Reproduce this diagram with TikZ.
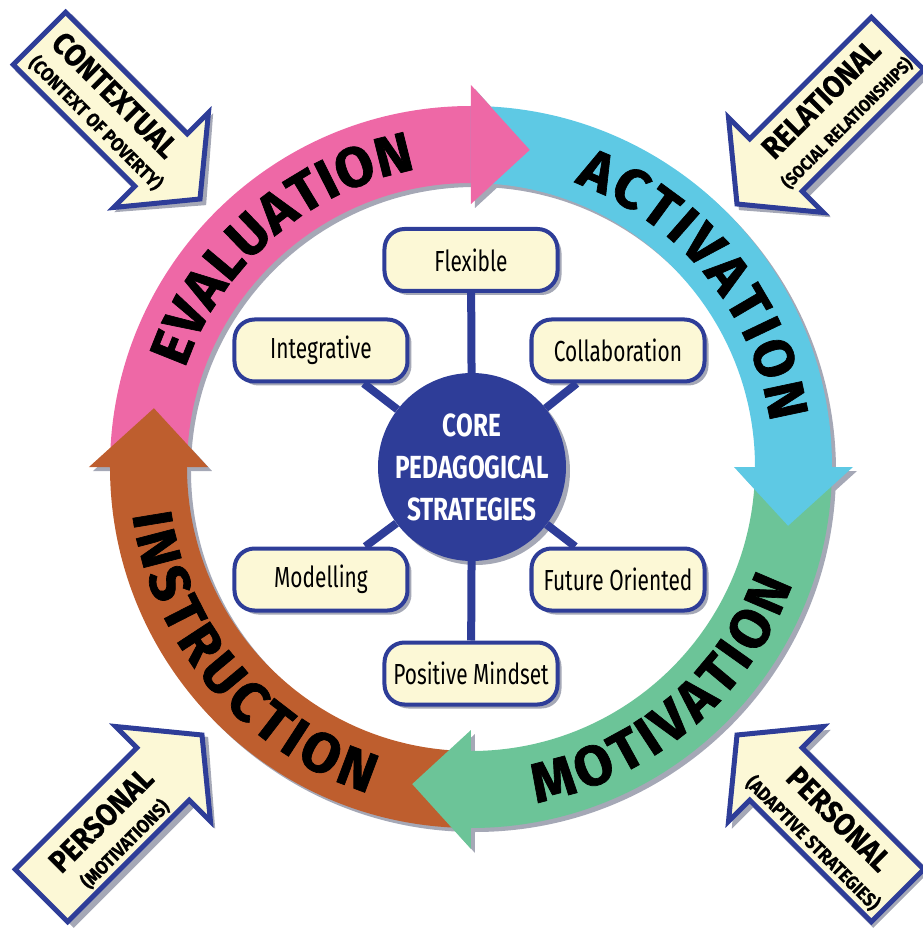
\documentclass[tikz,border=0pt]{standalone}
\usepackage{fontspec}
\setmainfont{Fira Sans}
\newfontfamily\regc[FakeStretch=0.72]{Fira Sans}
\newfontfamily\boldc[FakeStretch=0.76]{Fira Sans}
\newfontfamily\ringc[FakeStretch=1.0,FakeBold=1.2]{Fira Sans}
\newfontfamily\arrc[FakeStretch=0.9,FakeBold=0.6]{Fira Sans}
\usetikzlibrary{decorations.text,shadows}
\definecolor{navy}{RGB}{46,61,152}
\definecolor{cream}{RGB}{252,248,214}
\definecolor{pinkc}{RGB}{238,104,166}
\definecolor{cyanc}{RGB}{94,201,228}
\definecolor{greenc}{RGB}{108,196,152}
\definecolor{brownc}{RGB}{190,94,46}
\definecolor{shadowc}{RGB}{165,168,182}
\newcommand\ringfont{\ringc\bfseries\fontsize{56}{62}\selectfont}
\tikzset{
  box/.style={draw=navy, line width=4pt, fill=cream, rounded corners=20pt,
    minimum width=173pt, minimum height=62pt, inner sep=0pt, text=black,
    font=\regc\fontsize{29}{32}\selectfont,
    drop shadow={shadow xshift=4pt, shadow yshift=-4pt, fill=shadowc, opacity=1}},
  core/.style={circle, fill=navy, minimum size=188pt, inner sep=0pt, text=white,
    align=center, font=\boldc\bfseries\fontsize{32}{42}\selectfont,
    drop shadow={shadow xshift=4pt, shadow yshift=-4pt, fill=shadowc, opacity=1}},
  spoke/.style={draw=navy, line width=8pt},
  arrmain/.style={inner sep=0pt, text=black, font=\arrc\bfseries\fontsize{31}{34}\selectfont},
  arrsub/.style={inner sep=0pt, text=black, font=\arrc\bfseries\fontsize{19}{21}\selectfont},
  sidearrow/.style={fill=cream, draw=navy, line width=5pt, line join=miter},
  ringtext/.style={decorate, decoration={text along path, text align={fit to path}}}
}
\begin{document}
\begin{tikzpicture}[x=1pt,y=1pt]
\useasboundingbox (-471,-462) rectangle (451,467);

% ---- corner arrows ----
\foreach \x/\y/\a in {-271/268/-45, 266/263/-135, -269/-268/45, 266/-268/135}{
  \begin{scope}[shift={(\x+4,\y-4)}, rotate=\a]
    \fill[shadowc] (-227,40) -- (-57,40) -- (-57,70) -- (3,0) -- (-57,-70) -- (-57,-40) -- (-227,-40) -- cycle;
  \end{scope}
  \begin{scope}[shift={(\x,\y)}, rotate=\a]
    \filldraw[sidearrow] (-227,37) -- (-55,37) -- (-55,67) -- (0,0) -- (-55,-67) -- (-55,-37) -- (-227,-37) -- cycle;
  \end{scope}
}
\node[arrmain, rotate=-45] (ctx) at (-356,372) {CONTEXTUAL};
\node[arrsub, rotate=-45] (ctxs) at (-375,344) {(CONTEXT OF POVERTY)};
\node[arrmain, rotate=45] (rel) at (350,368) {RELATIONAL};
\node[arrsub, rotate=45, font=\arrc\bfseries\fontsize{17.5}{20}\selectfont] (rels) at (376,344) {(SOCIAL RELATIONSHIPS)};
\node[arrmain, rotate=45] (pmot) at (-370,-353) {PERSONAL};
\node[arrsub, rotate=45] (pmots) at (-346,-377) {(MOTIVATIONS)};
\node[arrmain, rotate=-45] (pada) at (368,-352) {PERSONAL};
\node[arrsub, rotate=-45] (padas) at (342,-376) {(ADAPTIVE STRATEGIES)};

% ---- ring shadows ----
\begin{scope}[shift={(4,-4)}]
  \fill[shadowc, even odd rule] (0,0) circle[radius=361] (0,0) circle[radius=284];
  \foreach \s in {180,90,0,-90}{
    \fill[shadowc] (\s-90:382) -- (\s-100.5:322.5) -- (\s-90:263) -- cycle;
  }
\end{scope}
% ---- ring bands ----
\foreach \s/\c in {180/pinkc, 90/cyanc, 0/greenc, -90/brownc}{
  \fill[\c] (\s:361) arc[start angle=\s, end angle=\s-90, radius=361]
     -- (\s-90:284) arc[start angle=\s-90, end angle=\s, radius=284] -- cycle;
}
% ---- ring heads ----
\foreach \s/\c in {180/pinkc, 90/cyanc, 0/greenc, -90/brownc}{
  \fill[\c] (\s-90:382) -- (\s-100.5:322.5) -- (\s-90:263) -- cycle;
}
% ---- ring labels ----
\path[ringtext, decoration={text={|\ringfont|EVALUATION}}]
  (161:302.5) arc[start angle=161, end angle=100.5, radius=302.5];
\path[ringtext, decoration={text={|\ringfont|ACTIVATION}}]
  (70:302.5) arc[start angle=70, end angle=8.5, radius=302.5];
\path[ringtext, decoration={text={|\ringfont|MOTIVATION}}]
  (-79:342) arc[start angle=-79, end angle=-20, radius=342];
\path[ringtext, decoration={text={|\ringfont|INSTRUCTION}}]
  (188:342) arc[start angle=188, end angle=252.5, radius=342];

% ---- centre ----
\node[core] (core) at (1,0) {CORE\\PEDAGOGICAL\\STRATEGIES};
\node[box] (flex) at (0,207) {Flexible};
\node[box] (integ) at (-150,116.5) {Integrative};
\node[box] (collab) at (147,116.5) {Collaboration};
\node[box] (model) at (-150,-112.5) {Modelling};
\node[box] (future) at (147,-112.5) {Future Oriented};
\node[box] (posit) at (0,-206.5) {Positive Mindset};
\foreach \b in {flex,integ,collab,model,future,posit}{
  \draw[spoke] (core) -- (\b);
}
\end{tikzpicture}
\end{document}
